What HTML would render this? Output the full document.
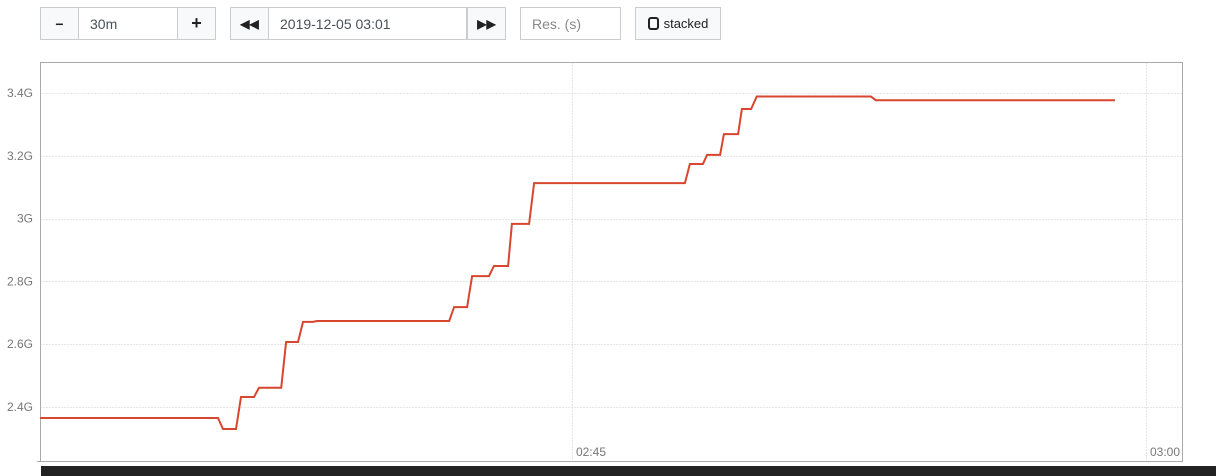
<!DOCTYPE html>
<html><head><meta charset="utf-8">
<style>
body{margin:0;width:1216px;height:476px;overflow:hidden;background:#fff;font-family:"Liberation Sans",sans-serif;position:relative}
.box{position:absolute;top:7px;height:31px;border:1px solid #ccc;box-sizing:content-box;background:#fff;font-size:14px;color:#495057}
.btn{background:#f8f9fa;display:flex;align-items:center;justify-content:center;font-weight:bold;color:#222}
.txt{display:flex;align-items:center;padding-left:11px}
</style></head><body>
<div class="box btn" style="left:40px;width:37px">&#8722;</div>
<div class="box txt" style="left:78px;width:88px">30m</div>
<div class="box btn" style="left:177px;width:37px;font-size:18px">+</div>
<div class="box btn" style="left:230px;width:37px;font-size:12px">&#9664;&#9664;</div>
<div class="box txt" style="left:268px;width:186px">2019-12-05 03:01</div>
<div class="box btn" style="left:467px;width:37px;font-size:12px">&#9654;&#9654;</div>
<div class="box txt" style="left:520px;width:88px;color:#888">Res. (s)</div>
<div class="box btn" style="left:635px;width:84px;font-weight:normal;font-size:13px;background:#f8f9fa"><span style="display:inline-block;width:7px;height:9px;border:2px solid #222;border-radius:3px;margin-right:5px"></span>stacked</div>
<svg id="chart" width="1216" height="476" style="position:absolute;left:0;top:0"></svg>
<div style="position:absolute;left:41px;top:466px;width:1175px;height:10px;background:#222"></div>
<script>
const times=[0.1,4.75,4.88,5.22,5.35,5.69,5.82,6.40,6.53,6.84,6.97,7.23,7.34,10.79,10.92,11.26,11.39,11.83,11.96,12.33,12.43,12.88,13.01,16.95,17.08,17.42,17.53,17.87,17.97,18.34,18.44,18.68,18.83,21.81,21.94,28.19];
const values=[2.365,2.365,2.330,2.330,2.432,2.432,2.461,2.461,2.607,2.607,2.671,2.671,2.674,2.674,2.718,2.718,2.817,2.817,2.849,2.849,2.983,2.983,3.113,3.113,3.174,3.174,3.203,3.203,3.269,3.269,3.349,3.349,3.389,3.389,3.377,3.377];
const yTicks=[2.4,2.6,2.8,3.0,3.2,3.4];
const yTickLabels=["2.4G","2.6G","2.8G","3G","3.2G","3.4G"];
const xTicks=[14,29];
const xTickLabels=["02:45","03:00"];
const NS="http://www.w3.org/2000/svg",svg=document.getElementById('chart');
const L=40.5,R=1182.5,T=62.5,B=461.5;
const x=t=>572+(t-14)*38.267;
const y=v=>407-(v-2.4)*314;
function mk(tag,a){const e=document.createElementNS(NS,tag);for(const k in a)e.setAttribute(k,a[k]);svg.appendChild(e);return e;}
yTicks.forEach((v,i)=>{
 const g=mk('line',{x1:L,x2:R,y1:Math.round(y(v))+0.5,y2:Math.round(y(v))+0.5,stroke:'#ccc','stroke-dasharray':'1,2'});
 
 
 const t=mk('text',{x:33,y:y(v)+4,'text-anchor':'end','font-size':12,fill:'#777','font-family':'Liberation Sans, sans-serif'});
 t.textContent=yTickLabels[i];
 
 
});
xTicks.forEach((v,i)=>{
 const g=mk('line',{x1:Math.round(x(v))+0.5,x2:Math.round(x(v))+0.5,y1:T,y2:B,stroke:'#ccc','stroke-dasharray':'1,2'});
 
 
 const t=mk('text',{x:x(v)+4,y:456,'font-size':12,fill:'#777','font-family':'Liberation Sans, sans-serif'});
 t.textContent=xTickLabels[i];
 
 
});
const f=mk('rect',{x:L,y:T,width:R-L,height:B-T,fill:'none',stroke:'#aaa','stroke-width':1});


mk('line',{x1:37,x2:L,y1:B,y2:B,stroke:'#aaa'});
const p=mk('polyline',{points:times.map((t,i)=>x(t).toFixed(1)+','+y(values[i]).toFixed(1)).join(' '),fill:'none',stroke:'#d7462f','stroke-width':2});


</script>
</body></html>
